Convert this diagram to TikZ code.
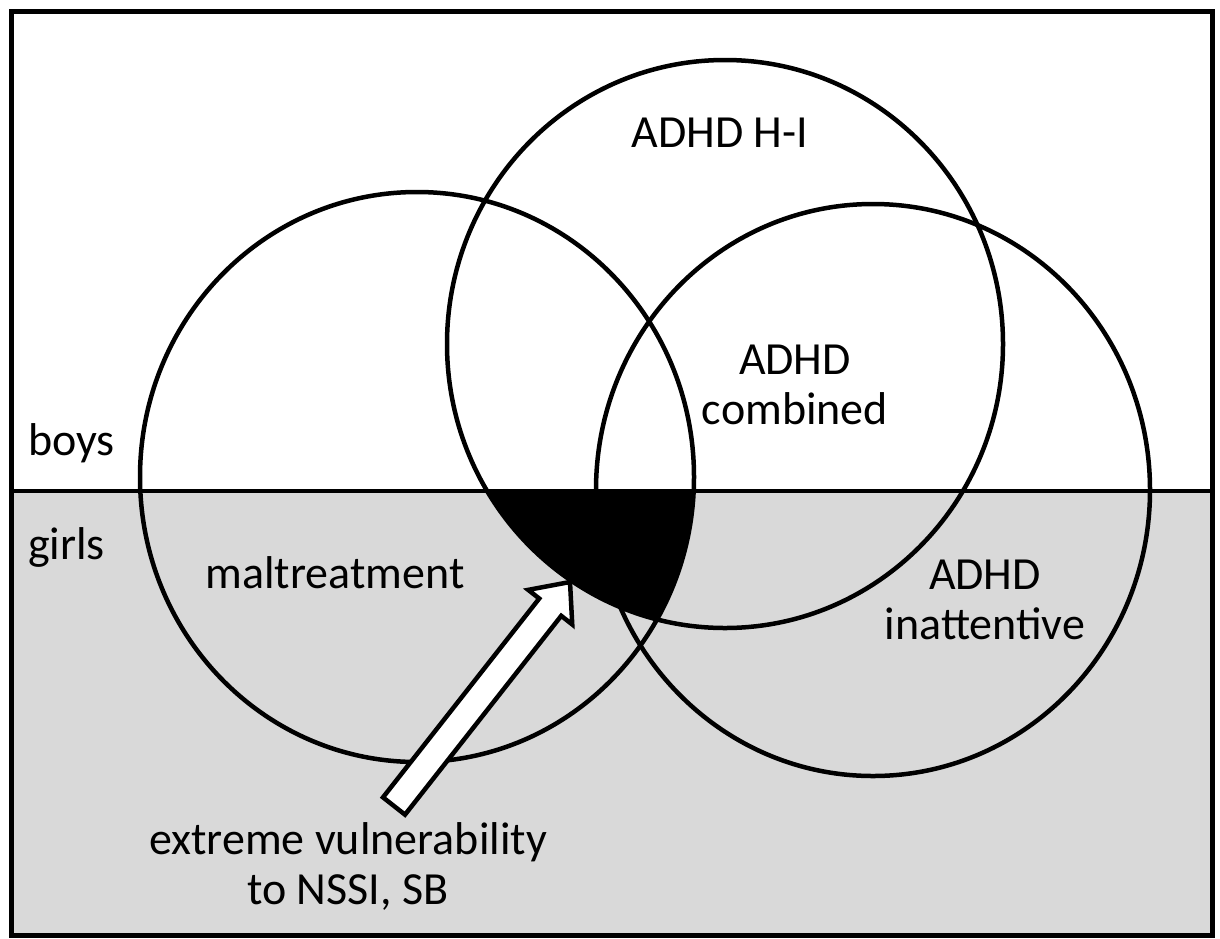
\documentclass[tikz,border=0pt]{standalone}
\usepackage{fontspec}
\setmainfont{Carlito}
\usetikzlibrary{calc}
\definecolor{girlgrey}{RGB}{217,217,217}
\tikzset{
  ring/.style={draw=black, line width=4.5pt},
  lbl/.style={font=\fontsize{46}{50}\selectfont, inner sep=0pt, align=center, text=black},
  blockarrow/.style={draw=black, fill=white, line width=4.5pt, line join=miter},
}
\begin{document}
\begin{tikzpicture}[x=1pt, y=-1pt]
\useasboundingbox (0,0) rectangle (1220,938);
% halves
\fill[white] (11,11) rectangle (1212,491);
\fill[girlgrey] (11,491) rectangle (1212,935);
% circle centres
\coordinate (mal) at (417,477);
\coordinate (hi) at (725,344);
\coordinate (ina) at (873,490);
% black region: maltreatment and ADHD H-I, girls
\begin{scope}
  \clip (11,491) rectangle (1212,935);
  \clip (mal) ellipse [x radius=277pt, y radius=285pt];
  \fill[black] (hi) ellipse [x radius=278pt, y radius=284pt];
\end{scope}
% circles
\draw[ring] (mal) ellipse [x radius=277pt, y radius=285pt];
\draw[ring] (hi) ellipse [x radius=278pt, y radius=284pt];
\draw[ring] (ina) ellipse [x radius=277pt, y radius=286pt];
% divider and frame
\coordinate (divL) at (11,491);
\coordinate (divR) at (1212,491);
\draw[line width=4.5pt] (divL) -- (divR);
\draw[line width=5pt] (11,11) rectangle (1212,935);
% labels
\node[lbl] (hiL) at (720,133) {ADHD H-I};
\node[lbl] (comb) at (795,385) {ADHD\\combined};
\node[lbl, anchor=west] (boys) at (28,443) {boys};
\node[lbl, anchor=west] (girls) at (28,547) {girls};
\node[lbl] (malL) at (335,573) {maltreatment};
\node[lbl] (inaL) at (985,600) {ADHD\\inattentive};
\node[lbl] (vul) at (348,866) {extreme vulnerability\\to NSSI, SB};
% block arrow
\coordinate (tail) at (394,806);
\coordinate (tip) at (570,582);
\coordinate (base) at ($(tip)!32pt!(tail)$);
\draw[blockarrow]
  ($(tail)!14pt!90:(tip)$) --
  ($(base)!14pt!90:(tip)$) --
  ($(base)!28pt!90:(tip)$) --
  (tip) --
  ($(base)!28pt!-90:(tip)$) --
  ($(base)!14pt!-90:(tip)$) --
  ($(tail)!14pt!-90:(tip)$) -- cycle;
\end{tikzpicture}
\end{document}
